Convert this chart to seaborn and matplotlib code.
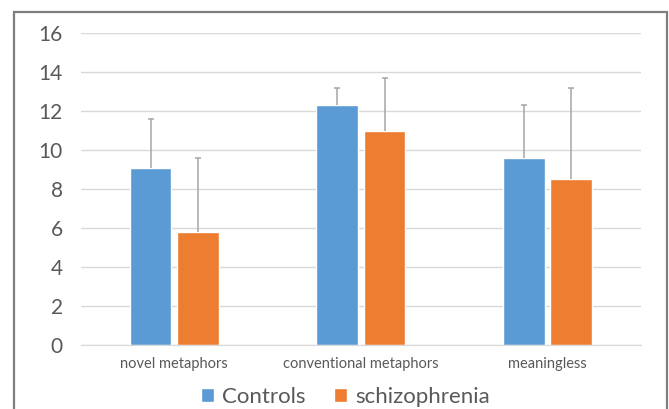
import numpy as np
import pandas as pd
import seaborn as sns
import matplotlib.pyplot as plt
from matplotlib.patches import Rectangle

categories = ["novel metaphors", "conventional metaphors", "meaningless"]
groups = ["Controls", "schizophrenia"]
controls = [9.1, 12.3, 9.6]
schizo = [5.8, 11.0, 8.5]
controls_err = [2.5, 0.9, 2.7]
schizo_err = [3.8, 2.7, 4.7]

df = pd.DataFrame({
    "category": categories * 2,
    "group": [groups[0]] * 3 + [groups[1]] * 3,
    "value": controls + schizo,
})

sns.set_style("white")
plt.rcParams["font.family"] = ["Lato", "DejaVu Sans"]

fig = plt.figure(figsize=(6.69, 4.09), dpi=100)
ax = fig.add_axes([0.121, 0.1565, 0.837, 0.7625])

palette = {"Controls": "#5B9BD5", "schizophrenia": "#ED7D31"}
sns.barplot(data=df, x="category", y="value", hue="group", order=categories,
            hue_order=groups, palette=palette, width=0.507, gap=0.12,
            saturation=1, errorbar=None, ax=ax)

# upward-only error bars (line from bar top, cap at the end)
for cont, errs in zip(ax.containers, [controls_err, schizo_err]):
    xs = np.array([p.get_x() + p.get_width() / 2 for p in cont.patches])
    hs = np.array([p.get_height() for p in cont.patches])
    tops = hs + np.array(errs)
    ax.vlines(xs, hs, tops, color="#A5A5A5", linewidth=1.1, zorder=3)
    ax.plot(xs, tops, linestyle="none", marker="_", markersize=4,
            markeredgewidth=1.1, color="#A5A5A5", zorder=3)

ax.set_ylim(0, 16)
ax.set_xlim(-0.5, 2.5)
ax.set_yticks(range(0, 17, 2))
ax.yaxis.grid(True, color="#D9D9D9", linewidth=1)
ax.set_axisbelow(True)
for s in ["left", "top", "right"]:
    ax.spines[s].set_visible(False)
ax.spines["bottom"].set_color("#D9D9D9")
ax.set_xlabel("")
ax.set_ylabel("")
ax.tick_params(axis="y", length=0, pad=13, labelsize=15, labelcolor="#595959")
ax.tick_params(axis="x", length=0, pad=9, labelsize=10.5, labelcolor="#595959")

handles, labels = ax.get_legend_handles_labels()
ax.get_legend().remove()
fig.legend(handles, labels, loc="center", bbox_to_anchor=(0.516, 0.029),
           ncol=2, frameon=False, fontsize=16, labelcolor="#595959",
           handlelength=0.6, handleheight=0.6, handletextpad=0.36,
           columnspacing=1.27, borderpad=0)

# outer chart border (bottom edge cut off like the reference)
fig.patches.append(Rectangle((0.021, -0.1), 0.976, 1.071, transform=fig.transFigure,
                             fill=False, edgecolor="#7F7F7F", linewidth=1.6))

fig.savefig("out.png", dpi=100)
